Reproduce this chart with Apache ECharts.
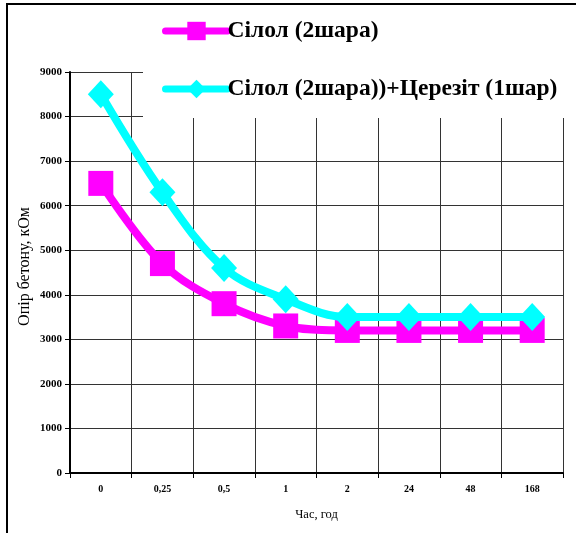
<!DOCTYPE html>
<html>
<head>
<meta charset="utf-8">
<script src="https://cdn.jsdelivr.net/npm/echarts@6.0.0/dist/echarts.min.js"></script>
<style>
  html, body { margin: 0; padding: 0; background: #fff; }
  #chart { width: 576px; height: 533px; }
</style>
</head>
<body>
<div id="chart"></div>
<script>
// ── дані ──
var categories = ['0', '0,25', '0,5', '1', '2', '24', '48', '168'];
var silol = [6500, 4700, 3800, 3300, 3200, 3200, 3200, 3200];
var silolCerezit = [8500, 6300, 4600, 3900, 3500, 3500, 3500, 3500];
var seriesNames = ['Сілол (2шара)', 'Сілол (2шара))+Церезіт (1шар)'];

var serif = '"Liberation Serif", "DejaVu Serif", serif';
var chart = echarts.init(document.getElementById('chart'));

chart.setOption({
    animation: false,
    backgroundColor: '#fff',
    graphic: [{
        type: 'rect',
        shape: { x: 7, y: 4, width: 620, height: 600 },
        style: { fill: 'none', stroke: '#000', lineWidth: 2 },
        z: 100,
    }],
    legend: {
        orient: 'vertical',
        left: 143,
        top: 9,
        padding: [10, 14, 17, 19],
        backgroundColor: '#fff',
        itemWidth: 62,
        itemHeight: 23,
        itemGap: 34,
        z: 50,
        lineStyle: { width: 7, cap: 'round' },
        textStyle: { fontFamily: serif, fontSize: 23.5, fontWeight: 'bold', color: '#000', padding: [5, 0, 0, -5] },
        data: seriesNames,
    },
    grid: { left: 70, right: 13, top: 72, bottom: 60 },
    xAxis: {
        type: 'category',
        data: categories,
        boundaryGap: true,
        name: 'Час, год',
        nameLocation: 'middle',
        nameGap: 35,
        nameMoveOverlap: false,
        nameTextStyle: { fontFamily: serif, fontSize: 12.5, color: '#000' },
        axisLine: { lineStyle: { color: '#000', width: 2 } },
        axisTick: { show: true, length: 5, lineStyle: { color: '#000' } },
        axisLabel: { fontFamily: serif, fontSize: 10, fontWeight: 'bold', color: '#000', margin: 11 },
        splitLine: { show: true, lineStyle: { color: '#333', width: 1 } },
    },
    yAxis: {
        type: 'value',
        min: 0,
        max: 9000,
        interval: 1000,
        name: 'Опір бетону, кОм',
        nameLocation: 'middle',
        nameGap: 37,
        nameMoveOverlap: false,
        nameTextStyle: { fontFamily: serif, fontSize: 16, color: '#000', padding: [0, 0, 0, 12] },
        axisLine: { show: true, lineStyle: { color: '#000', width: 2 } },
        axisTick: { show: true, length: 5, lineStyle: { color: '#000' } },
        axisLabel: {
            fontFamily: serif, fontSize: 11, fontWeight: 'bold', color: '#000', margin: 8,
            formatter: function (v) { return String(v); },
        },
        splitLine: { show: true, lineStyle: { color: '#333', width: 1 } },
    },
    series: [
        {
            name: seriesNames[0],
            type: 'line',
            data: silol,
            smooth: 0.35,
            symbol: 'rect',
            symbolSize: 25,
            itemStyle: { color: '#ff00ff' },
            lineStyle: { color: '#ff00ff', width: 8 },
            z: 3,
        },
        {
            name: seriesNames[1],
            type: 'line',
            data: silolCerezit,
            smooth: 0.35,
            symbol: 'diamond',
            symbolSize: [26, 28],
            itemStyle: { color: '#00ffff' },
            lineStyle: { color: '#00ffff', width: 8 },
            z: 4,
        },
    ],
});
</script>
</body>
</html>
